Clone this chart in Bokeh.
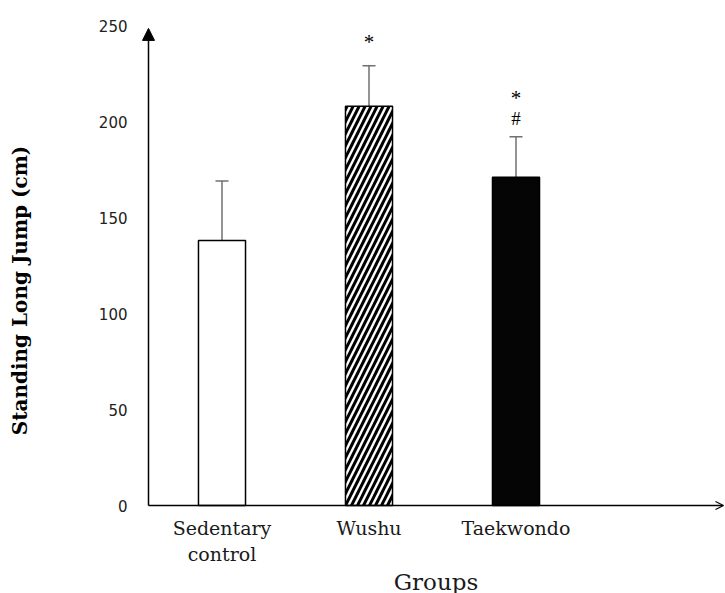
import math
from bokeh.plotting import figure
from bokeh.models import (ColumnDataSource, Range1d, Arrow, NormalHead, OpenHead,
                          Whisker, TeeHead)
from bokeh.core.properties import value
from bokeh.embed import file_html
from bokeh.resources import INLINE

# ---- data ----
groups = ["Sedentary\ncontrol", "Wushu", "Taekwondo"]
means = [138, 208, 171]
sds = [31, 21, 21]
star_marks = ["", "*", "*"]
hash_marks = ["", "", "#"]
y_ticks = [0, 50, 100, 150, 200, 250]
x_title = "Groups"
y_title = "Standing Long Jump (cm)"

xs = [1, 2, 3]
err_top = [m + s for m, s in zip(means, sds)]

src = ColumnDataSource(dict(
    x=xs, top=means, upper=err_top,
    fill=["white", "white", "#050505"],
    hatch=[" ", "/", " "],
    star=star_marks, hsh=hash_marks,
    star_off=[0, -24, -39],
))
tick_src = ColumnDataSource(dict(y=y_ticks, lab=[str(t) for t in y_ticks]))
cat_src = ColumnDataSource(dict(x=xs, lab=groups))

W, H = 725, 593
PX = 147.0          # pixels per category unit
PY = 1.92           # pixels per cm
AX_X = 0.5          # where the y axis line sits (data units)
AX_PX, AX_PY = 148, 505
x_start = AX_X - AX_PX / PX
x_end = x_start + W / PX
y_end = AX_PY / PY
y_start = -(H - AX_PY) / PY
x_axis_end = x_end - 2 / PX

p = figure(width=W, height=H, output_backend="svg", toolbar_location=None,
           x_axis_type=None, y_axis_type=None,
           x_range=Range1d(x_start, x_end), y_range=Range1d(y_start, y_end),
           min_border_left=0, min_border_right=0, min_border_top=0, min_border_bottom=0)
p.outline_line_color = None
p.xgrid.visible = False
p.ygrid.visible = False
p.background_fill_color = "white"

p.vbar(x="x", top="top", bottom=0, width=0.32, source=src,
       fill_color="fill", line_color="black", line_width=1.5,
       hatch_pattern="hatch", hatch_color="black", hatch_scale=12, hatch_weight=3.0)

p.add_layout(Whisker(source=src, base="x", upper="upper", lower="top",
                     line_color="#707070", line_width=1.5,
                     upper_head=TeeHead(size=13, line_color="#707070", line_width=1.5),
                     lower_head=None))

p.text(x="x", y="upper", text="star", source=src, y_offset="star_off",
       text_align="center", text_baseline="middle",
       text_font=value("Liberation Serif"), text_font_size="21px", text_color="black")
p.text(x="x", y="upper", text="hsh", source=src, y_offset=-18,
       text_align="center", text_baseline="middle",
       text_font=value("Liberation Serif"), text_font_size="19px", text_color="black")

# y tick labels
p.text(x=AX_X, y="y", text="lab", source=tick_src, x_offset=-21,
       text_align="right", text_baseline="middle",
       text_font=value("DejaVu Sans"), text_font_size="15px", text_color="#222222")
# category labels
p.text(x="x", y=0, text="lab", source=cat_src, y_offset=11,
       text_align="center", text_baseline="top", text_line_height=1.2,
       text_font=value("DejaVu Serif"), text_font_size="19px", text_color="#1a1a1a")
# axis titles
p.text(x=[(AX_X + x_axis_end) / 2], y=[0], text=[x_title], y_offset=76,
       text_align="center", text_baseline="middle",
       text_font=value("DejaVu Serif"), text_font_size="23px", text_color="#1a1a1a")
p.text(x=[AX_X - 129 / PX], y=[(AX_PY - 290) / PY], text=[y_title], angle=math.pi / 2,
       text_align="center", text_baseline="middle",
       text_font=value("DejaVu Serif"), text_font_style="bold",
       text_font_size="20px", text_color="black")

# axis lines with arrow heads
p.add_layout(Arrow(x_start=AX_X, y_start=0, x_end=AX_X, y_end=248.5,
                   line_color="black", line_width=1.5,
                   end=NormalHead(size=12, fill_color="black", line_color="black")))
p.add_layout(Arrow(x_start=AX_X, y_start=0, x_end=x_axis_end, y_end=0,
                   line_color="black", line_width=1.5,
                   end=OpenHead(size=8, line_color="black", line_width=1.2)))

open("out.html", "w").write(file_html(p, INLINE))
